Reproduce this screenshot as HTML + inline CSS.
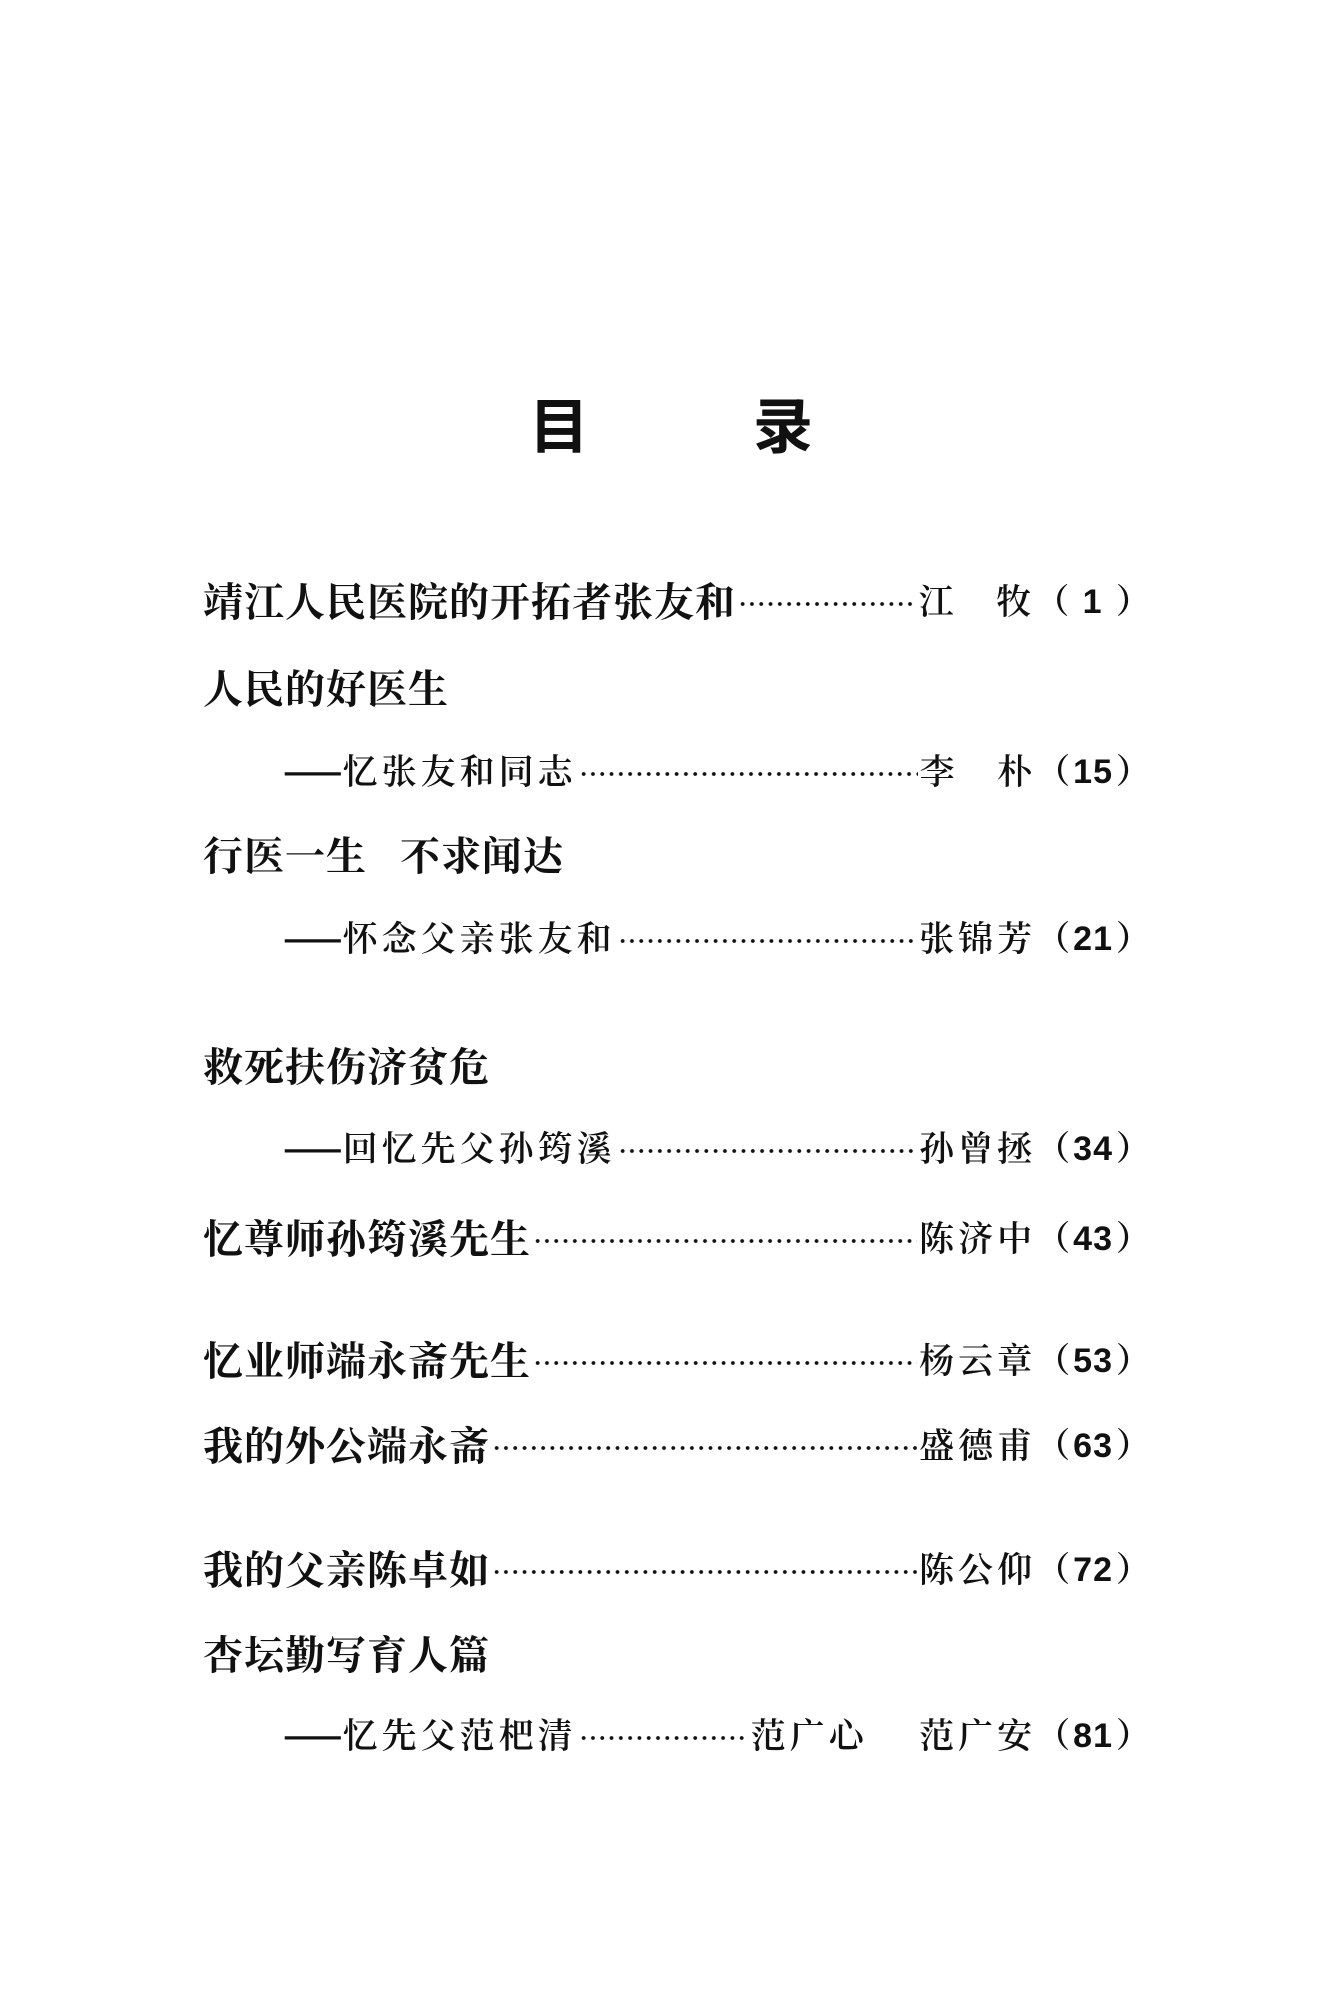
<!DOCTYPE html>
<html><head><meta charset="utf-8">
<style>
html,body{margin:0;padding:0;background:#fff;}
body{width:1336px;height:2004px;position:relative;overflow:hidden;color:#111;
font-family:"Liberation Serif","Noto Serif CJK SC",serif;}
.t{position:absolute;top:388px;font-family:"Noto Sans CJK SC",sans-serif;font-size:60px;line-height:70px;font-weight:700;}
.r{position:absolute;left:203px;width:947px;height:50px;line-height:50px;display:flex;align-items:center;white-space:nowrap;}
.r.s{left:283px;width:867px;}
.m{font-family:"Noto Serif CJK SC",serif;font-weight:700;font-size:40px;letter-spacing:1px;}
.s .m{font-weight:600;font-size:35px;letter-spacing:4px;}
.dash{font-family:"Noto Sans CJK SC",sans-serif;font-weight:700;letter-spacing:0;}
.d{flex:1;height:8px;margin:8px 2px 0 2px;background-image:radial-gradient(circle,#111 1.6px,transparent 2.2px);background-size:9.3px 8px;background-repeat:repeat-x;background-position:left center;}
.a{font-family:"Noto Serif CJK SC",serif;font-weight:600;font-size:35px;letter-spacing:4px;}
.p{font-family:"Noto Serif CJK SC",serif;font-weight:700;font-size:34px;}
.n{font-family:"Liberation Sans",sans-serif;font-weight:700;font-size:34px;letter-spacing:1px;padding:0 3px;}
</style></head><body>
<div class="t" style="left:529px">目</div>
<div class="t" style="left:753px">录</div>

<div class="r" style="top:575px"><span class="m">靖江人民医院的开拓者张友和</span><span class="d"></span><span class="a">江&nbsp;&nbsp;&nbsp;牧</span><span class="p">（<span class="n">&nbsp;1&nbsp;</span>）</span></div>
<div class="r" style="top:662px"><span class="m">人民的好医生</span></div>
<div class="r s" style="top:745px"><span class="m"><span class="dash">——</span>忆张友和同志</span><span class="d"></span><span class="a">李&nbsp;&nbsp;&nbsp;朴</span><span class="p">（<span class="n">15</span>）</span></div>
<div class="r" style="top:829px"><span class="m">行医一生&nbsp;&nbsp;&nbsp;不求闻达</span></div>
<div class="r s" style="top:912px"><span class="m"><span class="dash">——</span>怀念父亲张友和</span><span class="d"></span><span class="a">张锦芳</span><span class="p">（<span class="n">21</span>）</span></div>
<div class="r" style="top:1040px"><span class="m">救死扶伤济贫危</span></div>
<div class="r s" style="top:1122px"><span class="m"><span class="dash">——</span>回忆先父孙筠溪</span><span class="d"></span><span class="a">孙曾拯</span><span class="p">（<span class="n">34</span>）</span></div>
<div class="r" style="top:1212px"><span class="m">忆尊师孙筠溪先生</span><span class="d"></span><span class="a">陈济中</span><span class="p">（<span class="n">43</span>）</span></div>
<div class="r" style="top:1334px"><span class="m">忆业师端永斋先生</span><span class="d"></span><span class="a">杨云章</span><span class="p">（<span class="n">53</span>）</span></div>
<div class="r" style="top:1419px"><span class="m">我的外公端永斋</span><span class="d"></span><span class="a">盛德甫</span><span class="p">（<span class="n">63</span>）</span></div>
<div class="r" style="top:1543px"><span class="m">我的父亲陈卓如</span><span class="d"></span><span class="a">陈公仰</span><span class="p">（<span class="n">72</span>）</span></div>
<div class="r" style="top:1628px"><span class="m">杏坛勤写育人篇</span></div>
<div class="r s" style="top:1709px"><span class="m"><span class="dash">——</span>忆先父范杷清</span><span class="d"></span><span class="a">范广心&nbsp;&nbsp;&nbsp;&nbsp;范广安</span><span class="p">（<span class="n">81</span>）</span></div>
</body></html>
